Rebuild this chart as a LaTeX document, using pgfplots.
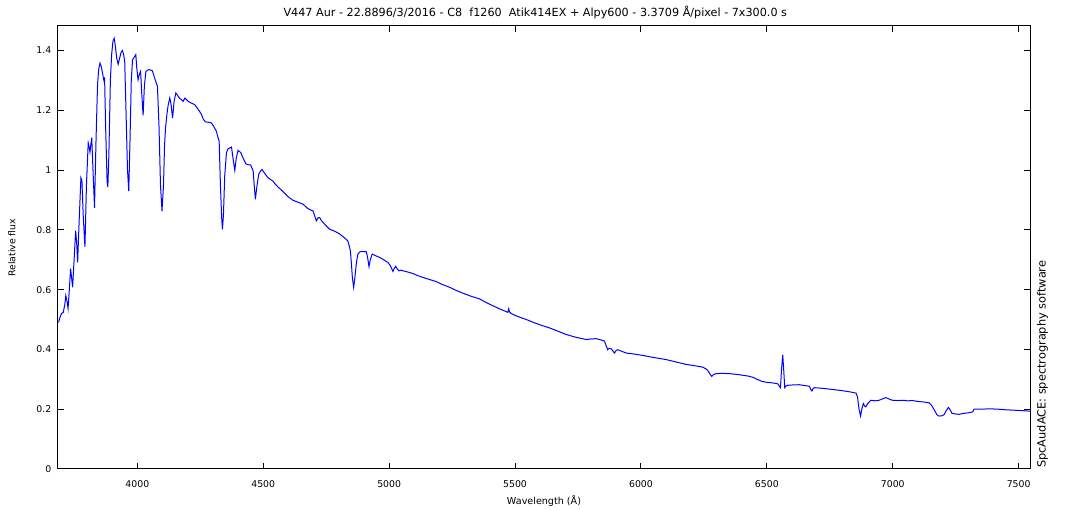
\documentclass[border=0pt]{standalone}
\usepackage{pgfplots}
\pgfplotsset{compat=1.18}
\usepackage{fontspec}
\setmainfont{DejaVu Sans}
\begin{document}
\begin{tikzpicture}[x=1pt,y=1pt]
\path[use as bounding box] (-43.5,-30.75) rectangle (759,351.75);
\begin{axis}[
  at={(0,0)}, anchor=south west,
  scale only axis, width=729pt, height=332.25pt,
  xmin=3685, xmax=7545, ymin=0, ymax=1.482,
  xtick={4000,4500,...,7500}, ytick={0,0.2,...,1.4},
  tick align=inside, major tick length=4.5pt,
  tick style={black, line width=0.75pt},
  axis line style={line width=0.75pt},
  /pgf/number format/assume math mode=true,
  /pgf/number format/1000 sep={},
  yticklabel style={/pgf/number format/fixed, /pgf/number format/precision=1, xshift=-1.5pt},
  xticklabel style={yshift=-5pt},
  ticklabel style={font=\fontsize{7}{8}\selectfont},
  clip=true,
]
\addplot[color=blue, line width=0.75pt] coordinates {
(3687,0.490)(3692,0.505)(3699,0.520)(3706,0.524)(3712,0.550)(3716,0.580)(3721,0.560)(3725,0.537)
(3730,0.600)(3735,0.670)(3739,0.640)(3743,0.608)(3749,0.700)(3755,0.797)(3759,0.760)(3763,0.691)
(3769,0.830)(3776,0.974)(3780,0.965)(3785,0.850)(3792,0.743)(3798,0.950)(3805,1.091)(3808,1.080)
(3812,1.060)(3816,1.090)(3819,1.108)(3824,1.000)(3830,0.874)(3836,1.100)(3842,1.286)(3847,1.340)
(3852,1.358)(3857,1.345)(3862,1.324)(3866,1.305)(3868,1.297)(3870,1.310)(3874,1.150)(3880,0.960)
(3883,0.943)(3887,1.050)(3893,1.300)(3898,1.386)(3903,1.430)(3908,1.441)(3912,1.420)(3918,1.375)
(3924,1.354)(3930,1.375)(3936,1.395)(3941,1.400)(3946,1.385)(3950,1.363)(3955,1.200)(3961,1.000)
(3966,0.930)(3971,1.100)(3976,1.300)(3981,1.369)(3988,1.378)(3994,1.386)(3998,1.340)(4003,1.302)
(4008,1.320)(4013,1.330)(4018,1.250)(4023,1.183)(4028,1.280)(4034,1.330)(4040,1.334)(4047,1.336)
(4054,1.334)(4060,1.332)(4066,1.315)(4073,1.297)(4080,1.280)(4086,1.150)(4092,0.950)(4098,0.863)
(4104,0.950)(4108,1.080)(4112,1.141)(4118,1.190)(4123,1.220)(4129,1.241)(4134,1.220)(4140,1.174)
(4146,1.230)(4153,1.258)(4160,1.250)(4169,1.239)(4175,1.236)(4182,1.230)(4189,1.241)(4195,1.236)
(4202,1.230)(4212,1.225)(4220,1.222)(4228,1.219)(4240,1.205)(4248,1.195)(4255,1.186)(4262,1.170)
(4271,1.161)(4282,1.160)(4294,1.158)(4304,1.145)(4314,1.130)(4320,1.110)(4325,1.097)(4330,0.950)
(4335,0.840)(4338,0.802)(4342,0.850)(4347,0.980)(4354,1.058)(4360,1.071)(4367,1.074)(4374,1.077)
(4380,1.040)(4387,0.999)(4393,1.040)(4400,1.066)(4406,1.062)(4411,1.058)(4420,1.040)(4431,1.021)
(4440,1.018)(4450,1.017)(4456,1.005)(4460,0.997)(4465,0.940)(4469,0.902)(4474,0.940)(4482,0.986)
(4488,0.995)(4495,1.002)(4505,0.990)(4519,0.974)(4530,0.968)(4539,0.963)(4549,0.952)(4559,0.943)
(4570,0.935)(4582,0.925)(4600,0.910)(4618,0.899)(4637,0.893)(4658,0.886)(4676,0.872)(4690,0.866)
(4698,0.863)(4705,0.845)(4711,0.830)(4717,0.840)(4724,0.841)(4732,0.830)(4745,0.818)(4764,0.802)
(4785,0.795)(4804,0.786)(4820,0.775)(4830,0.768)(4836,0.763)(4842,0.745)(4846,0.730)(4850,0.690)
(4854,0.640)(4859,0.608)(4864,0.640)(4870,0.690)(4876,0.719)(4883,0.726)(4890,0.728)(4900,0.727)
(4909,0.727)(4914,0.710)(4920,0.677)(4925,0.700)(4933,0.719)(4945,0.714)(4962,0.708)(4978,0.700)
(4995,0.691)(5005,0.680)(5015,0.661)(5020,0.670)(5026,0.678)(5032,0.670)(5039,0.663)(5047,0.665)
(5055,0.663)(5070,0.660)(5094,0.654)(5110,0.648)(5134,0.641)(5160,0.634)(5187,0.627)(5212,0.617)
(5240,0.608)(5265,0.598)(5293,0.588)(5325,0.578)(5359,0.569)(5390,0.555)(5420,0.543)(5438,0.536)
(5455,0.530)(5471,0.524)(5475,0.536)(5478,0.525)(5485,0.520)(5500,0.514)(5518,0.508)(5545,0.500)
(5571,0.491)(5600,0.482)(5637,0.472)(5670,0.461)(5703,0.450)(5740,0.441)(5783,0.433)(5800,0.435)
(5822,0.436)(5840,0.432)(5855,0.428)(5862,0.412)(5868,0.399)(5874,0.404)(5882,0.402)(5888,0.395)
(5895,0.388)(5901,0.396)(5908,0.399)(5920,0.395)(5941,0.388)(5970,0.385)(6007,0.380)(6050,0.373)
(6100,0.366)(6140,0.358)(6179,0.350)(6210,0.346)(6245,0.341)(6258,0.335)(6265,0.330)(6274,0.318)
(6281,0.310)(6288,0.316)(6298,0.319)(6320,0.320)(6351,0.319)(6385,0.316)(6417,0.312)(6431,0.310)
(6450,0.305)(6460,0.300)(6470,0.297)(6480,0.293)(6500,0.290)(6523,0.288)(6543,0.285)(6549,0.278)
(6554,0.272)(6558,0.330)(6563,0.382)(6567,0.330)(6571,0.272)(6576,0.278)(6583,0.280)(6600,0.281)
(6629,0.282)(6650,0.279)(6669,0.277)(6675,0.265)(6679,0.261)(6684,0.270)(6690,0.272)(6720,0.270)
(6761,0.266)(6800,0.262)(6830,0.258)(6854,0.254)(6860,0.241)(6866,0.200)(6872,0.177)(6877,0.200)
(6883,0.219)(6889,0.210)(6893,0.208)(6900,0.218)(6913,0.230)(6930,0.228)(6946,0.230)(6960,0.235)
(6973,0.239)(6985,0.234)(6999,0.230)(7020,0.229)(7040,0.230)(7060,0.228)(7078,0.229)(7100,0.226)
(7125,0.224)(7145,0.221)(7155,0.212)(7165,0.197)(7175,0.182)(7184,0.177)(7195,0.178)(7204,0.182)
(7212,0.195)(7221,0.206)(7228,0.198)(7235,0.186)(7250,0.184)(7264,0.183)(7280,0.186)(7300,0.188)
(7317,0.191)(7323,0.200)(7350,0.200)(7375,0.201)(7396,0.201)(7420,0.200)(7450,0.198)(7475,0.197)
(7500,0.196)(7520,0.195)(7535,0.194)(7545,0.194)
};
\end{axis}
\node[font=\fontsize{8.4}{9}\selectfont, inner sep=0pt] at (358,342.5) {V447 Aur - 22.8896/3/2016 - C8\ \ f1260\ \ Atik414EX + Alpy600 - 3.3709 Å/pixel - 7x300.0 s};
\node[font=\fontsize{7.2}{8}\selectfont, inner sep=0pt] at (364.5,-24) {Wavelength (Å)};
\node[font=\fontsize{7}{8}\selectfont, inner sep=0pt, rotate=90] at (-34.5,166) {Relative flux};
\node[font=\fontsize{8.5}{9}\selectfont, inner sep=0pt, rotate=90, anchor=west] at (738.4,0.75) {SpcAudACE: spectrography software};
\end{tikzpicture}
\end{document}
